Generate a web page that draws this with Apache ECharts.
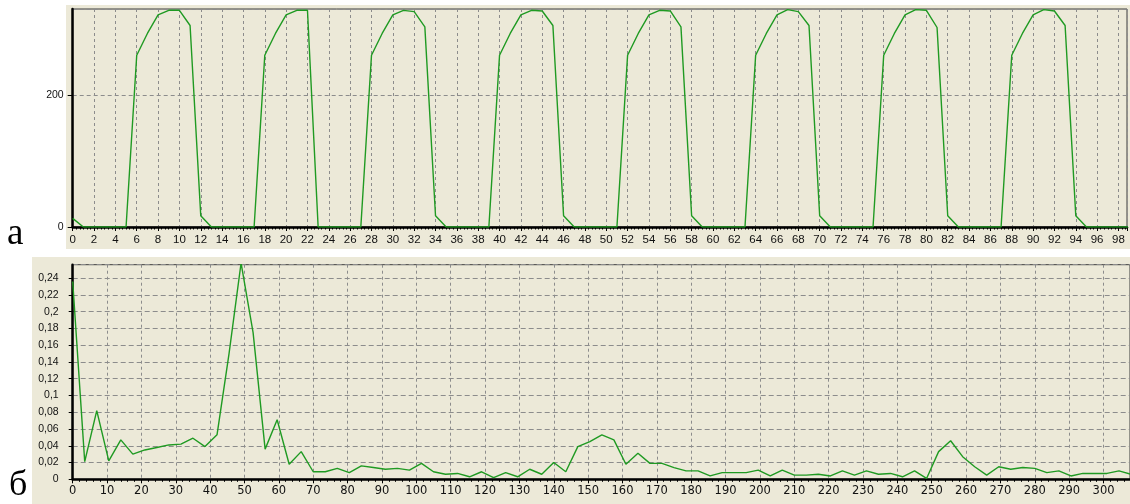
<!DOCTYPE html>
<html><head><meta charset="utf-8">
<script src="https://cdn.jsdelivr.net/npm/echarts@6/dist/echarts.min.js"></script>
<style>html,body{margin:0;padding:0;background:#fff}#c{width:1130px;height:504px}</style>
</head><body><div id="c"></div>
<script>
// Panel a: signal samples
const topSamples = [0,1,2,3,4,5,6,7,8,9,10,11,12,13,14,15,16,17,18,19,20,21,22,23,24,25,26,27,28,29,30,31,32,33,34,35,36,37,38,39,40,41,42,43,44,45,46,47,48,49,50,51,52,53,54,55,56,57,58,59,60,61,62,63,64,65,66,67,68,69,70,71,72,73,74,75,76,77,78,79,80,81,82,83,84,85,86,87,88,89,90,91,92,93,94,95,96,97,98,99];
const topValues = [13,0,0,0,0,0,260,293,321,328,328,305,17,0,0,0,0,0,260,293,321,328,328,0,0,0,0,0,260,293,321,328,326,303,17,0,0,0,0,0,260,293,321,328,327,305,17,0,0,0,0,0,260,293,321,328,327,303,17,0,0,0,0,0,260,293,321,329,326,305,17,0,0,0,0,0,260,293,321,329,328,302,17,0,0,0,0,0,260,293,321,329,327,305,17,0,0,0,0,0];
// Panel б: spectrum
const botFreq = [0,3.5,7,10.5,14,17.5,21,24.5,28,31.5,35,38.5,42,45.5,49,52.5,56,59.5,63,66.5,70,73.5,77,80.5,84,87.5,91,94.5,98,101.5,105,108.5,112,115.5,119,122.5,126,129.5,133,136.5,140,143.5,147,150.5,154,157.5,161,164.5,168,171.5,175,178.5,182,185.5,189,192.5,196,199.5,203,206.5,210,213.5,217,220.5,224,227.5,231,234.5,238,241.5,245,248.5,252,255.5,259,262.5,266,269.5,273,276.5,280,283.5,287,290.5,294,297.5,301,304.5,308];
const botValues = [0.236,0.021,0.082,0.022,0.047,0.030,0.035,0.038,0.041,0.042,0.049,0.039,0.053,0.150,0.258,0.175,0.036,0.071,0.018,0.033,0.009,0.009,0.013,0.008,0.016,0.014,0.012,0.013,0.011,0.019,0.009,0.006,0.007,0.003,0.009,0.002,0.008,0.003,0.012,0.006,0.020,0.009,0.039,0.045,0.053,0.047,0.018,0.031,0.019,0.019,0.014,0.010,0.010,0.004,0.008,0.008,0.008,0.011,0.004,0.011,0.005,0.005,0.006,0.004,0.010,0.005,0.010,0.006,0.007,0.003,0.010,0.001,0.033,0.046,0.027,0.015,0.005,0.015,0.012,0.014,0.013,0.008,0.010,0.004,0.007,0.007,0.007,0.010,0.006];
const panelLetters = ['а','б'];

const BEIGE = '#ECE9D8';
const GREEN = '#1f9a22';
const GRIDC = '#8c8c8c';
const chart = echarts.init(document.getElementById('c'), null, {renderer:'canvas'});
const axisLineS = {show:true, onZero:false, lineStyle:{color:'#000', width:2.5}};
const option = {
  animation:false,
  backgroundColor:'#fff',
  graphic:[
    {type:'rect', z:-10, shape:{x:66,y:5,width:1064,height:244}, style:{fill:BEIGE}},
    {type:'rect', z:-10, shape:{x:32,y:257,width:1098,height:247}, style:{fill:BEIGE}},
    {type:'text', left:7, top:216, style:{text:panelLetters[0], font:'37px "Liberation Serif"', fill:'#000'}},
    {type:'text', left:9, top:468, style:{text:panelLetters[1], font:'36px "Liberation Serif"', fill:'#000'}}
  ],
  grid:[
    {left:72.7, top:9, width:1054.3, height:218, show:true, borderColor:'#3a3a3a', borderWidth:1, backgroundColor:'transparent'},
    {left:72.7, top:264.7, width:1059, height:214.6, show:true, borderColor:'#3a3a3a', borderWidth:1, backgroundColor:'transparent'}
  ],
  xAxis:[
    {type:'value', gridIndex:0, min:0, max:98.8, interval:2,
     axisLine:axisLineS,
     axisTick:{show:true, length:4, lineStyle:{color:'#000'}},
     minorTick:{show:true, splitNumber:6, length:2.5, lineStyle:{color:'#000'}},
     axisLabel:{color:'#111', fontSize:11.5, fontFamily:'Liberation Sans', margin:7, showMaxLabel:false},
     splitLine:{show:true, lineStyle:{color:GRIDC, width:1, type:[3,3]}}},
    {type:'value', gridIndex:1, min:0, max:307.7, interval:10,
     axisLine:axisLineS,
     axisTick:{show:true, length:4, lineStyle:{color:'#000'}},
     minorTick:{show:true, splitNumber:5, length:2.5, lineStyle:{color:'#000'}},
     axisLabel:{color:'#111', fontSize:11.5, fontFamily:'DejaVu Sans', margin:6, showMaxLabel:false},
     splitLine:{show:true, lineStyle:{color:GRIDC, width:1, type:[3,3]}}}
  ],
  yAxis:[
    {type:'value', gridIndex:0, min:0, max:330, interval:200,
     axisLine:axisLineS,
     axisTick:{show:true, length:5, lineStyle:{color:'#000'}},
     axisLabel:{color:'#111', fontSize:10.5, fontFamily:'Liberation Sans', margin:9, showMaxLabel:false},
     splitLine:{show:true, lineStyle:{color:GRIDC, width:1, type:[4,3]}}},
    {type:'value', gridIndex:1, min:0, max:0.256, interval:0.02,
     axisLine:axisLineS,
     axisTick:{show:true, length:4, lineStyle:{color:'#000'}},
     axisLabel:{color:'#111', fontSize:10.5, fontFamily:'Liberation Sans', margin:14, showMaxLabel:false,
       formatter:v => String(+v.toFixed(2)).replace('.', ',')},
     splitLine:{show:true, lineStyle:{color:GRIDC, width:1, type:[5,3]}}}
  ],
  series:[
    {type:'line', xAxisIndex:0, yAxisIndex:0, showSymbol:false, clip:true,
     lineStyle:{color:GREEN, width:1.4}, data:topSamples.map((x,i)=>[x, topValues[i]])},
    {type:'line', xAxisIndex:1, yAxisIndex:1, showSymbol:false, clip:true,
     lineStyle:{color:GREEN, width:1.4}, data:botFreq.map((x,i)=>[x, botValues[i]])}
  ]
};
chart.setOption(option);
</script></body></html>
